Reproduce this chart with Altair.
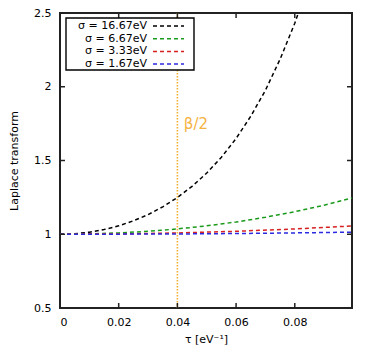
import altair as alt
import pandas as pd

# ---- data ----
tau_black = [0.0, 0.005, 0.01, 0.015, 0.02, 0.025, 0.03, 0.035, 0.04, 0.045, 0.05,
             0.055, 0.06, 0.065, 0.07, 0.075, 0.08, 0.0812]
val_black = [1.000, 1.003, 1.014, 1.032, 1.057, 1.091, 1.133, 1.186, 1.249, 1.325, 1.415,
             1.522, 1.649, 1.800, 1.976, 2.187, 2.430, 2.500]
tau_green = [0.0, 0.01, 0.02, 0.03, 0.04, 0.05, 0.06, 0.07, 0.08, 0.09, 0.0995]
val_green = [1.000, 1.002, 1.009, 1.020, 1.036, 1.057, 1.083, 1.115, 1.153, 1.197, 1.246]
tau_red = [0.0, 0.02, 0.04, 0.06, 0.08, 0.0995]
val_red = [1.000, 1.002, 1.009, 1.020, 1.036, 1.056]
tau_blue = [0.0, 0.025, 0.05, 0.075, 0.0995]
val_blue = [1.000, 1.001, 1.003, 1.008, 1.014]

labels = ["σ = 16.67eV", "σ = 6.67eV", "σ = 3.33eV", "σ = 1.67eV"]
colors = ["#000000", "#1a9a1a", "#d62020", "#2a2ae0"]
x_ticks = [0, 0.02, 0.04, 0.06, 0.08]
y_ticks = [0.5, 1.0, 1.5, 2.0, 2.5]
beta_half = 0.04
beta_label = "β/2"
beta_label_pos = (0.0422, 1.75)

W, H = 292, 295
FONT = "DejaVu Sans"

rows = []
for lab, ts, vs in zip(labels, [tau_black, tau_green, tau_red, tau_blue],
                       [val_black, val_green, val_red, val_blue]):
    for t, v in zip(ts, vs):
        rows.append({"tau": t, "val": v, "series": lab})
df = pd.DataFrame(rows)

xscale = alt.Scale(domain=[0, 0.0995], nice=False, zero=False)
yscale = alt.Scale(domain=[0.5, 2.5], nice=False, zero=False)

xaxis = alt.Axis(values=x_ticks, title="τ [eV⁻¹]", tickSize=0, domain=False, grid=False,
                 labelPadding=8, titlePadding=6, format="~g")
yaxis = alt.Axis(values=y_ticks, title="Laplace transform", tickSize=0, domain=False,
                 grid=False, labelPadding=9, titlePadding=14, format="~g")

curves = alt.Chart(df).mark_line(strokeDash=[4, 3], strokeWidth=1.5, clip=True).encode(
    x=alt.X("tau:Q", scale=xscale, axis=xaxis),
    y=alt.Y("val:Q", scale=yscale, axis=yaxis),
    color=alt.Color("series:N", scale=alt.Scale(domain=labels, range=colors), legend=None),
    detail="series:N",
)

vline = alt.Chart(pd.DataFrame({"b": [beta_half]})).mark_rule(
    color="#f5b032", strokeDash=[1.5, 1.5], strokeWidth=1.6
).encode(x=alt.X("b:Q", scale=xscale))

blabel = alt.Chart(pd.DataFrame({"x": [beta_label_pos[0]], "y": [beta_label_pos[1]],
                                  "t": [beta_label]})).mark_text(
    align="left", baseline="middle", fontSize=15, color="#f5b342", font=FONT
).encode(x=alt.X("x:Q", scale=xscale), y=alt.Y("y:Q", scale=yscale), text="t:N")

xt = pd.DataFrame({"v": x_ticks})
yt = pd.DataFrame({"v": y_ticks})
ticks = [
    alt.Chart(xt).mark_rule(color="#222222", strokeWidth=1.5).encode(
        x=alt.X("v:Q", scale=xscale), y=alt.value(H), y2=alt.value(H - 5)),
    alt.Chart(xt).mark_rule(color="#222222", strokeWidth=1.5).encode(
        x=alt.X("v:Q", scale=xscale), y=alt.value(0), y2=alt.value(5)),
    alt.Chart(yt).mark_rule(color="#222222", strokeWidth=1.5).encode(
        y=alt.Y("v:Q", scale=yscale), x=alt.value(0), x2=alt.value(5)),
    alt.Chart(yt).mark_rule(color="#222222", strokeWidth=1.5).encode(
        y=alt.Y("v:Q", scale=yscale), x=alt.value(W), x2=alt.value(W - 5)),
]

# custom legend (labels left, samples right)
base = alt.Chart(pd.DataFrame({"a": [0]}))
legend_layers = [
    base.mark_rect(fill="white", stroke="black", strokeWidth=1.4).encode(
        x=alt.value(6), x2=alt.value(134), y=alt.value(5), y2=alt.value(57))
]
row_y = [13, 25.7, 38.4, 51]
for lab, col, ry in zip(labels, colors, row_y):
    legend_layers.append(
        alt.Chart(pd.DataFrame({"t": [lab]})).mark_text(
            align="right", baseline="middle", fontSize=11, font=FONT, color="black"
        ).encode(x=alt.value(87), y=alt.value(ry), text="t:N"))
    legend_layers.append(
        base.mark_rule(color=col, strokeDash=[4, 3], strokeWidth=1.5).encode(
            x=alt.value(93), x2=alt.value(124), y=alt.value(ry)))

chart = alt.layer(curves, vline, blabel, *ticks, *legend_layers).properties(
    width=W, height=H,
    autosize=alt.AutoSizeParams(type="none"),
    padding={"left": 52, "top": 5, "right": 14, "bottom": 48},
).configure_view(stroke="#222222", strokeWidth=2).configure_axis(
    labelFont=FONT, titleFont=FONT, labelFontSize=11, titleFontSize=11,
    labelColor="black", titleColor="black", titleFontWeight="normal",
)

chart.save("out.html", embed_options={"renderer": "svg", "actions": False})
